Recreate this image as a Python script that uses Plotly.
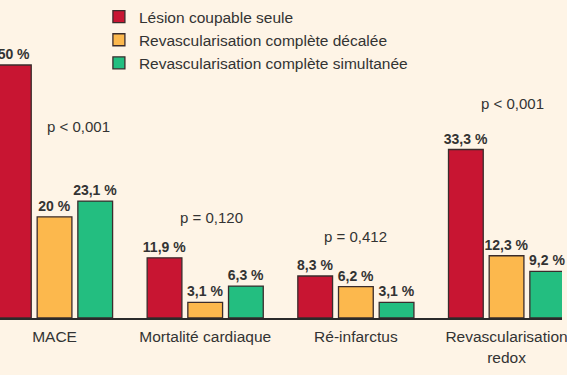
import plotly.graph_objects as go

categories = ["MACE", "Mortalité cardiaque", "Ré-infarctus", "Revascularisation<br>redox"]
series_names = ["Lésion coupable seule", "Revascularisation complète décalée", "Revascularisation complète simultanée"]
lesion = [50, 11.9, 8.3, 33.3]
decalee = [20, 3.1, 6.2, 12.3]
simultanee = [23.1, 6.3, 3.1, 9.2]
lesion_lbl = ["50 %", "11,9 %", "8,3 %", "33,3 %"]
decalee_lbl = ["20 %", "3,1 %", "6,2 %", "12,3 %"]
simultanee_lbl = ["23,1 %", "6,3 %", "3,1 %", "9,2 %"]
p_values = ["p < 0,001", "p = 0,120", "p = 0,412", "p < 0,001"]
p_y = [37.8, 19.8, 16.1, 42.3]
p_dx = [0.16, 0.04, 0.0, 0.04]

colors = ["#C81532", "#FCB84D", "#23BE80"]
FONT = "Liberation Sans, Arial, sans-serif"
TXT = "#333333"

fig = go.Figure()
for i, (name, vals, lbls) in enumerate(zip(series_names, [lesion, decalee, simultanee],
                                            [lesion_lbl, decalee_lbl, simultanee_lbl])):
    fig.add_trace(go.Bar(
        x=categories, y=vals, name=name, text=lbls, textposition="outside",
        texttemplate="%{text}", constraintext="none", cliponaxis=False,
        textfont=dict(family=FONT, size=14, color=TXT, weight="bold"),
        marker=dict(color=colors[i], line=dict(color="#3a2c2c", width=1.3)),
        legendgroup=f"g{i}", hoverinfo="skip",
    ))

for i, (c, p) in enumerate(zip(categories, p_values)):
    fig.add_annotation(x=i + p_dx[i], y=p_y[i], text=p, showarrow=False,
                       font=dict(family=FONT, size=15, color=TXT), xref="x", yref="y")

fig.update_layout(
    width=567, height=375,
    margin=dict(l=0, r=0, t=0, b=57),
    paper_bgcolor="#FEF4E6", plot_bgcolor="#FEF4E6",
    barmode="group", bargap=0.19, bargroupgap=0.146,
    showlegend=True,
    legend=dict(x=0.176, y=1.0, xanchor="left", yanchor="top",
                font=dict(family=FONT, size=15.5, color=TXT),
                bgcolor="rgba(0,0,0,0)", traceorder="normal", tracegroupgap=5),
    xaxis=dict(range=[-0.362, 3.368], showline=True, linecolor="#2a2a2a", linewidth=1.5,
               ticks="", showgrid=False, zeroline=False, ticklabelstandoff=4,
               tickfont=dict(family=FONT, size=15.5, color=TXT)),
    yaxis=dict(visible=False, range=[0, 62.85]),
)

fig.write_html("out.html", config={"displayModeBar": False},
               post_script="document.body.style.margin='0px';document.body.style.background='#FEF4E6';")
